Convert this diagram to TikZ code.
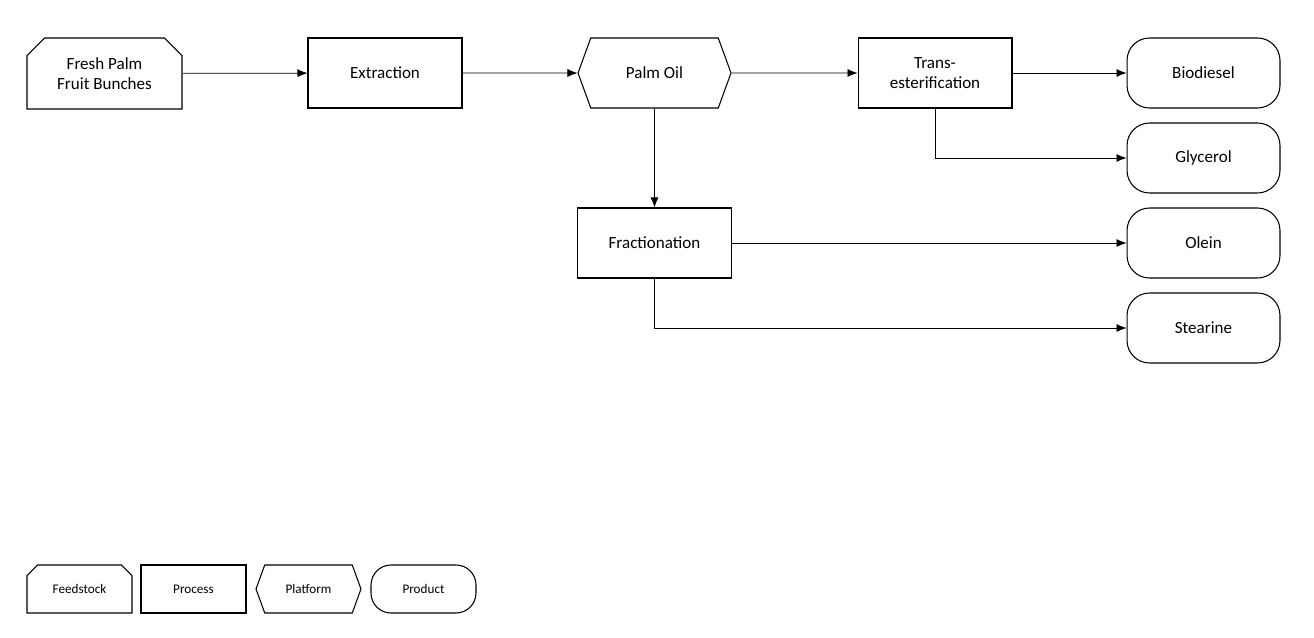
\documentclass[tikz,border=0pt]{standalone}
\usepackage{fontspec}
\setmainfont{Carlito}
\usetikzlibrary{positioning,shapes.misc,shapes.symbols,arrows.meta}
\tikzset{>={Latex[width=1.6mm,length=2mm]}}

\begin{document}
\begin{tikzpicture}[x=0.02cm,y=-0.02cm]
          \tikzstyle{base} = [draw, thick, line width=0.6pt, align=center, inner sep=1pt, font=\fontsize{9.7}{11.5}\selectfont]
          \tikzstyle{fnode} = [base, chamfered rectangle, chamfered rectangle corners={north west,north east}, chamfered rectangle xsep=5pt, chamfered rectangle ysep=5pt, minimum width=3.0cm, minimum height=1.32cm]
          \tikzstyle{pnode} = [base, rectangle, minimum width=3.08cm, minimum height=1.4cm]
          \tikzstyle{hnode} = [base, signal, signal to=west and east, signal pointer angle=140, minimum width=3.06cm, minimum height=1.4cm]
          \tikzstyle{onode} = [base, rectangle, rounded corners=0.45cm, minimum width=3.06cm, minimum height=1.4cm]
          \tikzstyle{small} = [font=\fontsize{7.5}{9}\selectfont, minimum width=2.1cm, minimum height=0.96cm]
          \useasboundingbox (0,0) rectangle (1314,638);

          \node[fnode, minimum width=3.1cm, minimum height=1.42cm] (fresh) at (104.5,73.5) {Fresh Palm\\Fruit Bunches};
          \node[pnode] (extr) at (385,73) {Extraction};
          \node[hnode] (oil) at (654.5,73) {Palm Oil};
          \node[pnode] (trans) at (935,73) {Trans-\\esterification};
          \node[onode] (bio) at (1203.5,73) {Biodiesel};
          \node[onode] (gly) at (1203.5,158) {Glycerol};
          \node[pnode] (frac) at (654.5,243) {Fractionation};
          \node[onode] (olein) at (1203.5,243) {Olein};
          \node[onode] (stea) at (1203.5,328) {Stearine};

          \draw[->,line width=0.4pt] (fresh) -- (extr);
          \draw[->,line width=0.4pt] (extr) -- (oil);
          \draw[->,line width=0.4pt] (oil) -- (trans);
          \draw[->,line width=0.4pt] (trans) -- (bio);
          \draw[->,line width=0.4pt] (trans.south) |- (gly);
          \draw[->,line width=0.4pt] (oil) -- (frac);
          \draw[->,line width=0.4pt] (frac) -- (olein);
          \draw[->,line width=0.4pt] (frac.south) |- (stea);

          % legend
          \node[fnode, small, chamfered rectangle xsep=3pt, chamfered rectangle ysep=3pt] (lfeed) at (79.5,589) {Feedstock};
          \node[pnode, small] (lproc) at (193.5,589) {Process};
          \node[hnode, small] (lplat) at (308.5,589) {Platform};
          \node[onode, small, rounded corners=0.4cm] (lprod) at (423.5,589) {Product};
        \end{tikzpicture}
\end{document}
